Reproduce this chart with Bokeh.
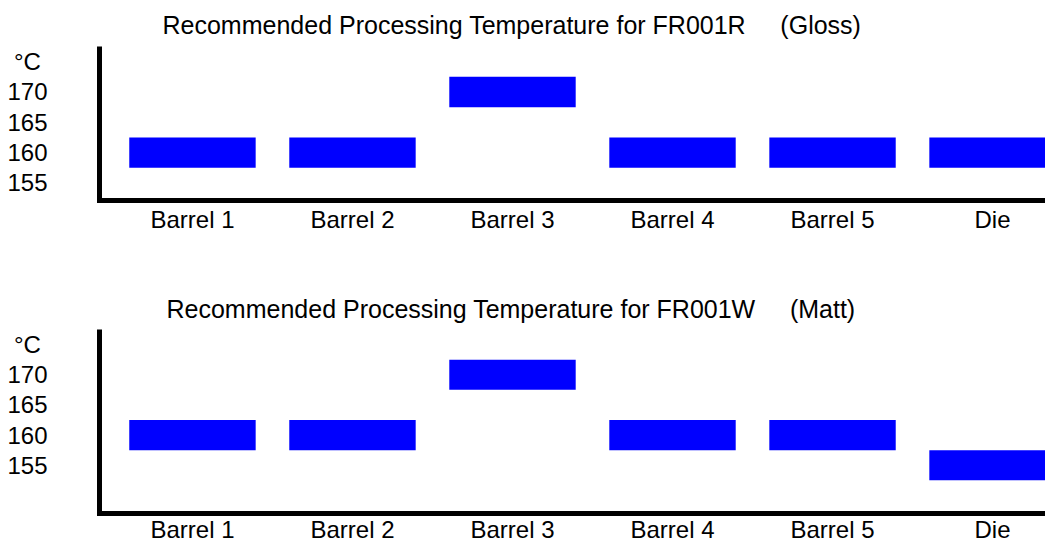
from bokeh.plotting import figure
from bokeh.layouts import column
from bokeh.models import FixedTicker, Range1d
from bokeh.embed import file_html
from bokeh.resources import INLINE

# ---- data ----
zones = ["Barrel 1", "Barrel 2", "Barrel 3", "Barrel 4", "Barrel 5", "Die"]
gloss_temps = [160, 160, 170, 160, 160, 160]
matt_temps = [160, 160, 170, 160, 160, 155]
y_ticks = [155, 160, 165, 170]
unit_label = "°C\u00a0"
GAP = "\u00a0" * 5
title_gloss = "Recommended Processing Temperature for FR001R" + GAP + "(Gloss)"
title_matt = "Recommended Processing Temperature for FR001W" + GAP + "(Matt)"

FONT = "Liberation Sans"
FS = "24px"
TFS = "25px"
BLUE = "#0000FF"


def make_panel(title, temps, height, y_start, border_top, border_bottom,
               title_offset, title_standoff, x_standoff):
    p = figure(width=1045, height=height, output_backend="svg", toolbar_location=None,
               x_range=Range1d(-0.581, 5.331), y_range=Range1d(y_start, 177.5),
               min_border_left=99, min_border_right=0,
               min_border_top=border_top, min_border_bottom=border_bottom,
               outline_line_color=None, background_fill_color="white",
               border_fill_color="white")
    idx = list(range(len(zones)))
    p.rect(x=idx, y=temps, width=0.79, height=5, fill_color=BLUE, line_color=None)

    p.title.text = title
    p.title.text_font = FONT
    p.title.text_font_size = TFS
    p.title.text_font_style = "normal"
    p.title.text_color = "black"
    p.title.align = "left"
    p.title.offset = title_offset
    p.title.standoff = title_standoff

    p.xgrid.visible = False
    p.ygrid.visible = False

    xa = p.xaxis[0]
    xa.ticker = FixedTicker(ticks=idx)
    xa.major_label_overrides = {i: z for i, z in enumerate(zones)}
    xa.minor_tick_line_color = None
    xa.major_tick_line_color = None
    xa.major_tick_in = 0
    xa.major_tick_out = 0
    xa.major_label_standoff = x_standoff
    xa.major_label_text_font = FONT
    xa.major_label_text_font_size = FS
    xa.major_label_text_color = "black"
    xa.axis_line_width = 5
    xa.axis_line_color = "black"
    xa.axis_line_cap = "square"

    ya = p.yaxis[0]
    unit_pos = y_ticks[-1] + 5
    ya.ticker = FixedTicker(ticks=y_ticks + [unit_pos])
    ya.major_label_overrides = {unit_pos: unit_label}
    ya.minor_tick_line_color = None
    ya.major_tick_line_color = None
    ya.major_tick_in = 0
    ya.major_tick_out = 0
    ya.major_label_standoff = 52
    ya.major_label_text_font = FONT
    ya.major_label_text_font_size = FS
    ya.major_label_text_color = "black"
    ya.axis_line_width = 5
    ya.axis_line_color = "black"
    return p


p1 = make_panel(title_gloss, gloss_temps, 283, 152.1, 46, 83, 63, 15, 5)
p2 = make_panel(title_matt, matt_temps, 262, 147.0, 46, 31, 67, 14, 2)

layout = column(p1, p2, spacing=0)

open("out.html", "w").write(file_html(layout, INLINE))
